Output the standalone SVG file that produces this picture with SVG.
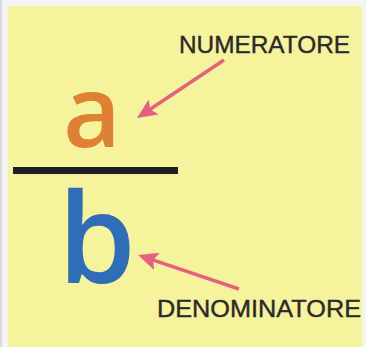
<svg xmlns="http://www.w3.org/2000/svg" width="366" height="347" viewBox="0 0 366 347">
  <style>
    .label { font-family: "Liberation Sans", Arial, sans-serif; font-size: 24px; fill: #2a2a2a; stroke: #2a2a2a; stroke-width: 0.4; }
    .letter { font-family: "Open Sans", "Liberation Sans", sans-serif; font-weight: 600; text-anchor: middle; }
    .conn { stroke: #e8607f; stroke-width: 3.5; fill: none; }
  </style>
  <defs>
    <marker id="head" viewBox="0 0 20 18" refX="10" refY="9" markerWidth="20" markerHeight="18" markerUnits="userSpaceOnUse" orient="auto">
      <path d="M0,0 L20,9 L0,18 L4,9 z" fill="#e8607f"/>
    </marker>
  </defs>
  <rect x="0" y="0" width="366" height="347" fill="#f4f4f4"/>
  <rect x="0" y="0" width="2" height="347" fill="#dcdcdc"/>
  <rect x="8" y="6" width="354" height="341" fill="#f6f39d"/>

  <g id="numerator">
    <text class="letter" x="92" y="147" font-size="100" fill="#de8132">a</text>
  </g>
  <g id="fraction-bar">
    <rect x="13" y="167" width="165" height="7" fill="#1f1f1f"/>
  </g>
  <g id="denominator">
    <text class="letter" x="97" y="283" font-size="125" fill="#2f6db8">b</text>
  </g>
  <g id="label-numeratore">
    <text class="label" x="179" y="53" textLength="171" lengthAdjust="spacingAndGlyphs">NUMERATORE</text>
  </g>
  <g id="label-denominatore">
    <text class="label" x="157" y="317" textLength="204" lengthAdjust="spacingAndGlyphs">DENOMINATORE</text>
  </g>

  <g id="connectors">
    <line class="conn" x1="224" y1="60" x2="145.3" y2="112.5" marker-end="url(#head)"/>
    <line class="conn" x1="239" y1="289" x2="147.5" y2="258.2" marker-end="url(#head)"/>
  </g>
</svg>
